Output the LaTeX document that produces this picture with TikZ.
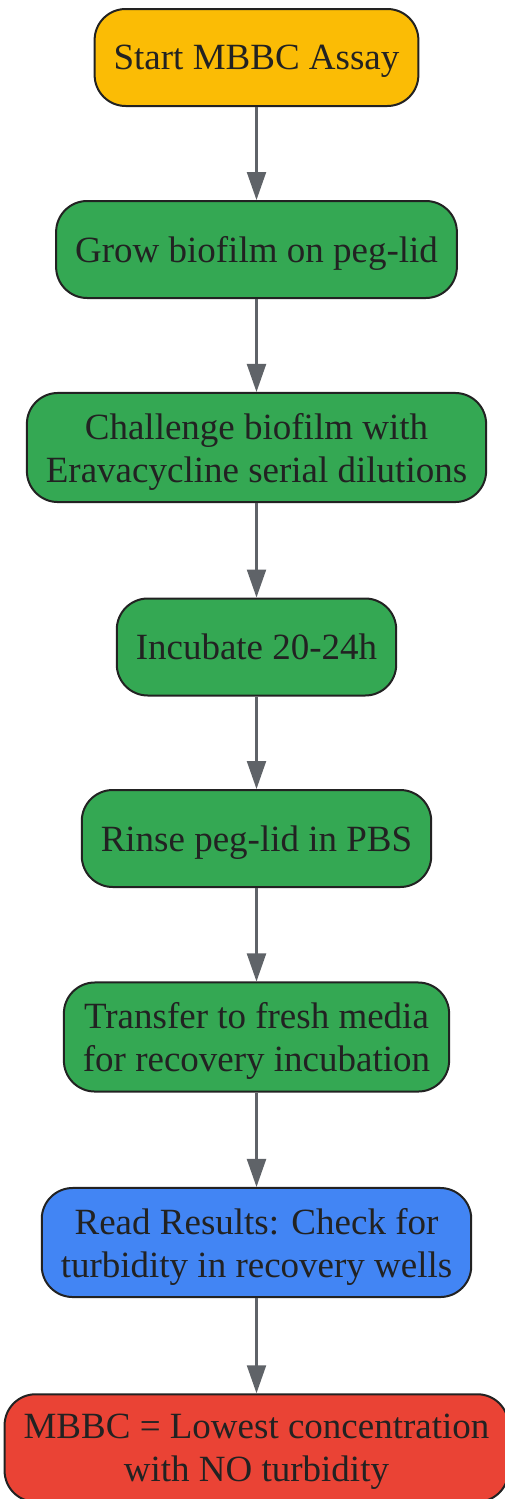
\documentclass[tikz,border=0pt]{standalone}
\usepackage{fontspec}
\setmainfont{Liberation Serif}
\usetikzlibrary{arrows.meta}

\definecolor{startyellow}{HTML}{FBBC05}
\definecolor{stepgreen}{HTML}{34A853}
\definecolor{readblue}{HTML}{4285F4}
\definecolor{endred}{HTML}{EA4335}
\definecolor{edgegray}{HTML}{5F6368}
\definecolor{inkdark}{HTML}{222222}

\begin{document}
\begin{tikzpicture}[x=1pt,y=-1pt,->,>={Triangle[width=19pt,length=28pt]},
  main node/.style={rectangle,rounded corners=31pt,draw=inkdark,line width=2pt,
    text=inkdark,align=center,inner xsep=19pt,inner ysep=20pt,minimum height=97pt,
    text depth=0pt,font=\fontsize{37}{43}\selectfont},
  every edge/.style={draw=edgegray,fill=edgegray,line width=2.2pt}]

  \useasboundingbox (0,0) rectangle (505,1499);

  \node[main node,fill=startyellow] (1) at (256.5,57.5) {Start MBBC Assay};
  \node[main node,fill=stepgreen] (2) at (256.5,249.5) {Grow biofilm on peg-lid};
  \node[main node,fill=stepgreen] (3) at (256.5,447.5) {Challenge biofilm with\\Eravacycline serial dilutions};
  \node[main node,fill=stepgreen] (4) at (256.5,647) {Incubate 20-24h};
  \node[main node,fill=stepgreen] (5) at (256.5,838.5) {Rinse peg-lid in PBS};
  \node[main node,fill=stepgreen] (6) at (256.5,1037) {Transfer to fresh media\\for recovery incubation};
  \node[main node,fill=readblue] (7) at (256.5,1242.5) {Read Results: Check for\\turbidity in recovery wells};
  \node[main node,fill=endred] (8) at (256.5,1448) {MBBC = Lowest concentration\\with NO turbidity};

  \path
    (1) edge (2)
    (2) edge (3)
    (3) edge (4)
    (4) edge (5)
    (5) edge (6)
    (6) edge (7)
    (7) edge (8)
    ;
\end{tikzpicture}
\end{document}
